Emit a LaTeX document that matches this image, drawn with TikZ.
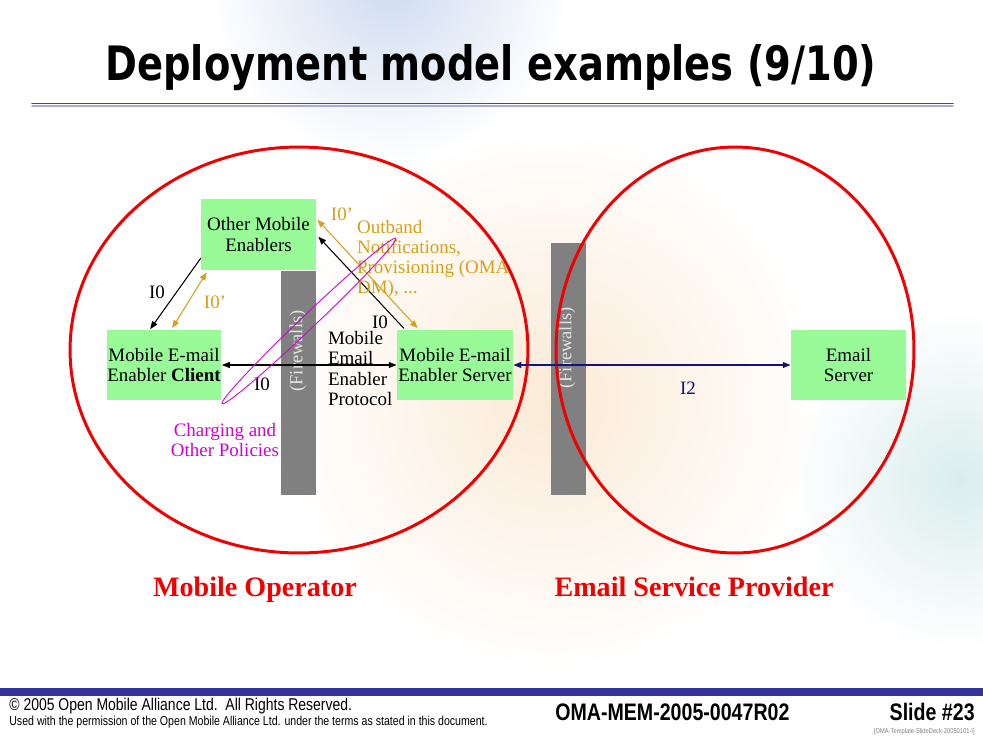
\documentclass[tikz,border=0pt]{standalone}
\usepackage{fontspec}
\setmainfont{Liberation Serif}
\newfontfamily\titlefont{DejaVu Sans}[FakeStretch=0.81]
\newfontfamily\footfont{Liberation Sans}[FakeStretch=0.82]
\usetikzlibrary{arrows.meta,calc,shapes.geometric,fadings}
\definecolor{boxgreen}{RGB}{152,251,152}
\definecolor{gold}{RGB}{212,160,30}
\definecolor{pink}{RGB}{210,0,210}
\definecolor{navy}{RGB}{20,20,120}
\definecolor{wallgray}{RGB}{128,128,128}
\definecolor{ovalred}{RGB}{240,0,0}
\definecolor{barblue}{RGB}{51,51,153}
\definecolor{rulelight}{RGB}{170,170,215}
\definecolor{hazeblue}{RGB}{205,219,240}
\definecolor{hazeorange}{RGB}{251,234,214}
\definecolor{hazeteal}{RGB}{218,237,237}
\tikzfading[name=softedge, inner color=transparent!0, outer color=transparent!100]

\begin{document}
\begin{tikzpicture}[x=0.02cm,y=-0.02cm,line cap=round,line join=round,
    >={Triangle[length=4.5pt,width=3.4pt]},
    box/.style={fill=boxgreen,minimum width=2.3cm,minimum height=1.42cm,inner sep=0pt,
      align=center,font=\fontsize{10.8}{11.8}\selectfont},
    wall/.style={fill=wallgray,minimum width=0.7cm,inner sep=0pt},
    walltext/.style={rotate=90,text=gray!20,font=\fontsize{10.5}{12}\selectfont},
    oval/.style={draw=ovalred,line width=1.7pt},
    lbl/.style={inner sep=1pt,font=\fontsize{10.8}{11.5}\selectfont},
    link/.style={line width=0.6pt}]

    \useasboundingbox (0,0) rectangle (983,737);
    %\draw [step=50,help lines] (0,0) grid (983,737);

    % background haze
    \fill[hazeblue, path fading=softedge] (390,-20) circle (3.6cm);
    \fill[hazeorange, path fading=softedge] (550,400) circle (5.4cm);
    \fill[hazeteal, path fading=softedge] (960,480) circle (3.4cm);

    % title
    \node[anchor=base,inner sep=0pt,font=\titlefont\bfseries\fontsize{27}{30}\selectfont] (title) at (491,80) {Deployment model examples (9/10)};
    \draw[color={rgb,255:red,70;green,70;blue,150},line width=1.1pt] (32,103.5) -- (953,103.5);
    \draw[color=rulelight,line width=1pt] (32,106) -- (953,106);

    % firewalls
    \node[wall,minimum height=4.48cm] (fwleft) at (298.5,383) {};
    \node[wall,minimum height=5.04cm] (fwright) at (568,369) {};
    \node[walltext] at (298,351) {(Firewalls)};
    \node[walltext] at (567,348) {(Firewalls)};

    % domains
    \draw[oval] (299,350) ellipse [x radius=4.58cm,y radius=4.06cm];
    \draw[oval] (735,350) ellipse [x radius=3.58cm,y radius=4.06cm];
    \node[text=ovalred,font=\bfseries\fontsize{16}{18}\selectfont] (mobop) at (255,590) {Mobile Operator};
    \node[text=ovalred,font=\bfseries\fontsize{16}{18}\selectfont] (esp) at (694,587) {Email Service Provider};

    % enablers
    \node[box] (omeb) at (258.5,234.5) {Other Mobile\\Enablers};
    \node[box] (client) at (164,365) {Mobile E-mail\\Enabler \textbf{Client}};
    \node[box,minimum width=2.32cm] (server) at (455,365) {Mobile E-mail\\Enabler Server};
    \node[box] (mailsrv) at (848.5,365) {Email\\Server};

    % interfaces
    \draw[link,<->] (client) -- (server);
    \draw[link,<->,navy] (server) -- (mailsrv);
    \draw[link,->] ($(omeb.south west)+(0,-12)$) -- ($(client.north west)+(44,0)$);
    \draw[link,<->,gold] ($(client.north west)+(66,-1)$) -- ($(omeb.south west)+(6,2)$);
    \draw[link,->] ($(server.north west)+(7,-1)$) -- ($(omeb.north east)+(2,38)$);
    \draw[link,<->,gold] ($(omeb.north east)+(1,21)$) -- ($(server.north west)+(21,-1)$);

    \node[lbl] (ia) at (157,292) {I0};
    \node[lbl,gold] (ib) at (215,302) {I0'};
    \node[lbl] (ic) at (380,322) {I0};
    \node[lbl,gold] (id) at (342,214) {I0'};
    \node[lbl] (ie) at (262,384) {I0};
    \node[lbl,navy] (itwo) at (688,388) {I2};

    \node[lbl,anchor=west,align=left] (proto) at (326,368.5) {Mobile\\Email\\Enabler\\Protocol};
    \node[lbl,gold,anchor=west,align=left] (outband) at (355,259) {Outband\\Notifications,\\Provisioning (OMA\\DM), ...};

    % policies
    \node[draw=pink,line width=0.5pt,ellipse,minimum width=4.8cm,minimum height=0.28cm,inner sep=0pt,rotate=43.6] (policy) at (309,321) {};
    \node[lbl,pink,align=center] (charge) at (225,440) {Charging and\\Other Policies};

    % footer
    \fill[barblue] (0,688) rectangle (983,696);
    \node[anchor=base west,inner sep=0pt,font=\footfont\fontsize{9.7}{10}\selectfont] (copy) at (9,710) {© 2005 Open Mobile Alliance Ltd.\ \ All Rights Reserved.};
    \node[anchor=base west,inner sep=0pt,font=\footfont\fontsize{7.35}{8}\selectfont] (perm) at (9,725) {Used with the permission of the Open Mobile Alliance Ltd. under the terms as stated in this document.};
    \node[anchor=base west,inner sep=0pt,font=\footfont\bfseries\fontsize{13.6}{14}\selectfont] (docid) at (555,720) {OMA-MEM-2005-0047R02};
    \node[anchor=base east,inner sep=0pt,font=\footfont\bfseries\fontsize{13.6}{14}\selectfont] (slide) at (975,720) {Slide \#23};
    \node[anchor=base east,inner sep=0pt,text=gray,font=\footfont\fontsize{4}{5}\selectfont] (tmpl) at (975,733) {[OMA-Template-SlideDeck-20050101-I]};
\end{tikzpicture}
\end{document}
